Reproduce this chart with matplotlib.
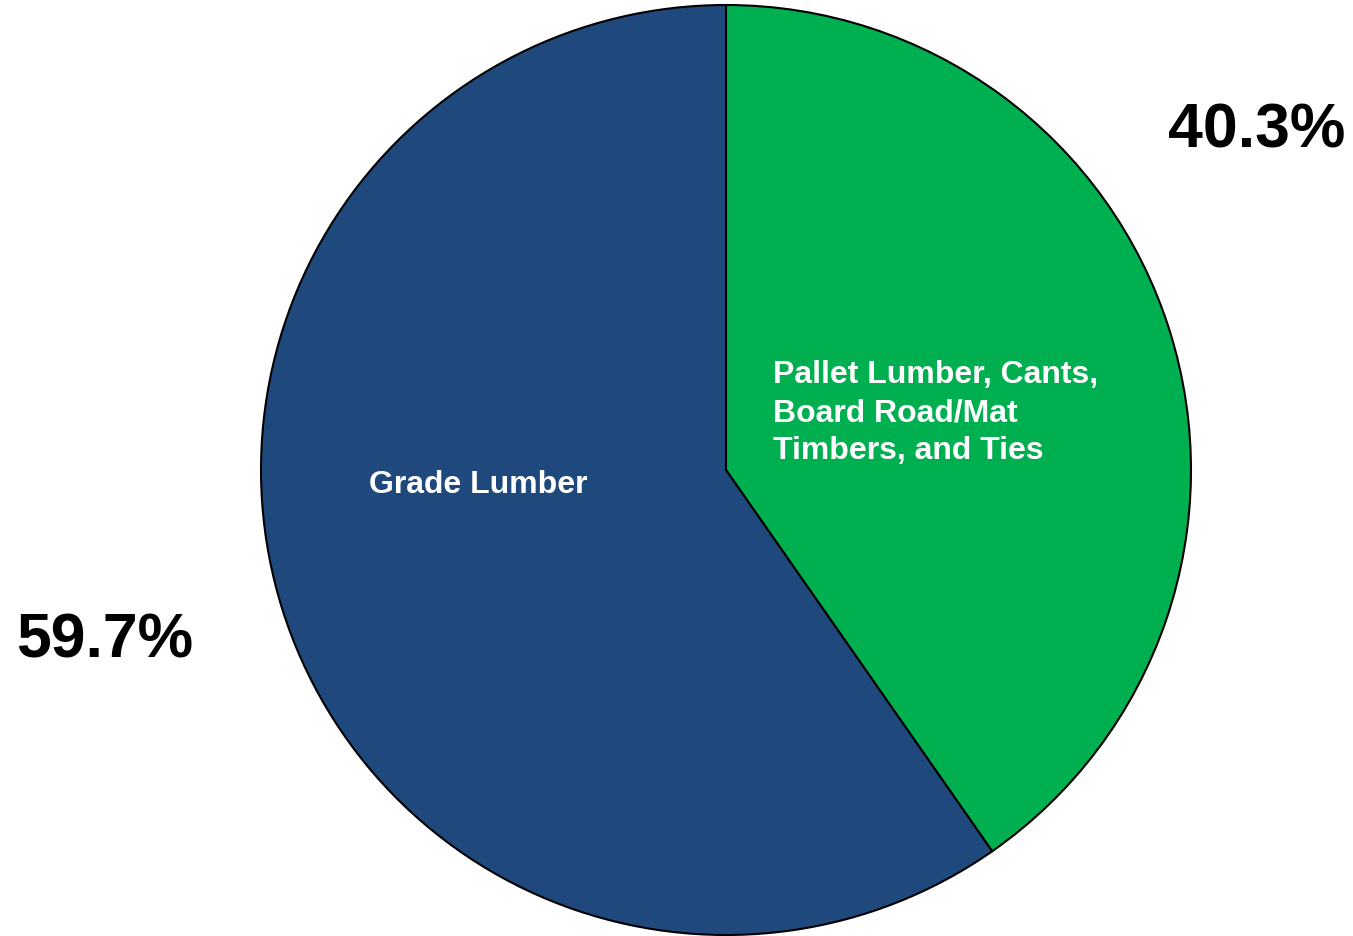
import matplotlib.pyplot as plt

plt.rcParams['font.family'] = ['Liberation Sans', 'DejaVu Sans']

# datos
categorias = ["Pallet Lumber, Cants,\nBoard Road/Mat\nTimbers, and Ties", "Grade Lumber"]
valores = [40.3, 59.7]
colores = ["#00B050", "#1F497D"]

W, H = 1353, 937
fig = plt.figure(figsize=(W / 100, H / 100), dpi=100)
ax = fig.add_axes([0, 0, 1, 1])

cx, cy, r = 726, H - 471, 465
ax.pie(valores, colors=colores, startangle=90, counterclock=False,
       center=(cx, cy), radius=r, frame=True,
       wedgeprops=dict(edgecolor="black", linewidth=1.5))
ax.set_xlim(0, W)
ax.set_ylim(0, H)
ax.set_aspect("equal")
ax.axis("off")

# etiquetas dentro de las porciones (una línea cada vez, línea base)
for i, linea in enumerate(categorias[0].split("\n")):
    ax.text(773, H - 383 - 38 * i, linea, color="white", fontsize=23,
            fontweight="bold", ha="left", va="baseline")
ax.text(478, H - 493, categorias[1], color="white", fontsize=23,
        fontweight="bold", ha="center", va="baseline")

# porcentajes
ax.text(1257, H - 148, f"{valores[0]:.1f}%", fontsize=45, fontweight="bold",
        ha="center", va="baseline")
ax.text(105, H - 658, f"{valores[1]:.1f}%", fontsize=45, fontweight="bold",
        ha="center", va="baseline")

fig.savefig("out.png", dpi=100)
